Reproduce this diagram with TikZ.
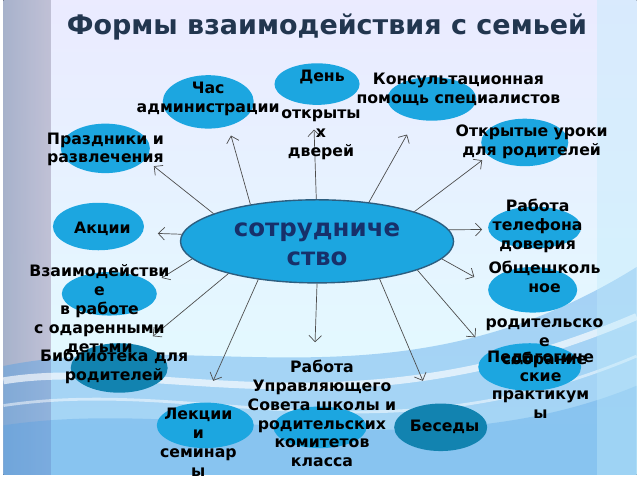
\documentclass[tikz,border=0pt]{standalone}
\usepackage{fontspec}
\setmainfont{DejaVu Sans}
\usetikzlibrary{arrows.meta, positioning, shapes.geometric}
\definecolor{bubblecol}{HTML}{1CA6E0}
\definecolor{deepcol}{HTML}{1283B0}
\definecolor{titlecol}{HTML}{22364F}
\definecolor{corecol}{HTML}{17306A}
\definecolor{rimcol}{HTML}{2C5E80}
\definecolor{stripcol}{HTML}{C6D3F2}
\definecolor{wavecol}{HTML}{4A9DE6}

\begin{document}
\begin{tikzpicture}[x=0.025cm, y=-0.025cm,
    bub/.style 2 args={ellipse, fill=bubblecol, inner sep=0pt,
      minimum width=#1*0.05cm, minimum height=#2*0.05cm},
    deep/.style={fill=deepcol},
    lbl/.style={font=\bfseries\fontsize{11.3}{13.6}\selectfont, align=center,
      inner sep=0pt, text=black},
    arr/.style={draw=black!70, line width=0.5pt,
      -{Straight Barb[length=1.6mm, width=3.2mm]}}]
  % background
  \fill[top color=white!92!blue, bottom color=blue!6!cyan!12] (0,0) rectangle (640,480);
  \fill[left color=stripcol, right color=white!90!blue, opacity=0.8] (0,0) rectangle (48,480);
  \fill[wavecol, opacity=0.4] (0,370) .. controls (200,330) and (400,420) .. (640,270)
    -- (640,480) -- (0,480) -- cycle;
  \fill[wavecol, opacity=0.3] (0,430) .. controls (200,400) and (420,480) .. (640,390)
    -- (640,480) -- (0,480) -- cycle;
  \draw[white, line width=5pt, opacity=0.65] (0,385) .. controls (150,360) and (350,445) .. (640,320);
  \draw[white, line width=2pt, opacity=0.5] (0,410) .. controls (200,380) and (380,470) .. (640,360);
  \fill[cyan!25, opacity=0.4] (600,0) rectangle (640,480);

  \node[font=\bfseries\fontsize{19.4}{23}\selectfont, text=titlecol] (title) at (327,27)
    {Формы взаимодействия с семьей};

  % bubbles
  \node[bub={138}{42}, draw=rimcol, line width=1pt] (coop) at (317,244) {};
  \node[bub={46}{27}] (eChas) at (207,103) {};
  \node[bub={43}{21}] (eDen) at (317,85) {};
  \node[bub={45}{22}] (eKons) at (433,100) {};
  \node[bub={44}{24}] (eOtk) at (527,144) {};
  \node[bub={45}{25}] (ePr) at (103,150) {};
  \node[bub={46}{24}] (eAk) at (96,229) {};
  \node[bub={48}{22}] (eVz) at (107,297) {};
  \node[bub={49}{25}, deep] (eBib) at (117,372) {};
  \node[bub={49}{23}] (eLek) at (204,430) {};
  \node[bub={47}{21}] (eUpr) at (320,432) {};
  \node[bub={47}{24}, deep] (eBes) at (442,432) {};
  \node[bub={47}{21}] (eTel) at (537,230) {};
  \node[bub={45}{23}] (eObs) at (535,293) {};
  \node[bub={52}{24}] (ePed) at (532,371) {};

  % arrow tips
  \coordinate (pPr) at (152,168);
  \coordinate (pChas) at (230,137);
  \coordinate (pDen) at (314,131);
  \coordinate (pKons) at (408,136);
  \coordinate (pOtk) at (484,162);
  \coordinate (pAk) at (156,236);
  \coordinate (pVz) at (160,281);
  \coordinate (pBib) at (151,340);
  \coordinate (pLek) at (212,385);
  \coordinate (pUpr) at (315,346);
  \coordinate (pBes) at (424,385);
  \coordinate (pPed) at (477,341);
  \coordinate (pObs) at (476,280);
  \coordinate (pTel) at (484,232);

  \draw[arr] (coop.165) -- (pPr);
  \draw[arr] (coop.151) -- (pChas);
  \draw[arr] (coop.91) -- (pDen);
  \draw[arr] (coop.37) -- (pKons);
  \draw[arr] (coop.17) -- (pOtk);
  \draw[arr] (coop.177) -- (pAk);
  \draw[arr] (coop.188) -- (pVz);
  \draw[arr] (coop.200) -- (pBib);
  \draw[arr] (coop.213) -- (pLek);
  \draw[arr] (coop.270) -- (pUpr);
  \draw[arr] (coop.329) -- (pBes);
  \draw[arr] (coop.344) -- (pPed);
  \draw[arr] (coop.352) -- (pObs);
  \draw[arr] (coop.5) -- (pTel);

  % labels
  \node[font=\bfseries\fontsize{17.6}{21.5}\selectfont, align=center, text=corecol] (tCoop)
    at (317,247) {сотрудниче\\ство};
  \node[lbl] (tPr) at (103,151) {Праздники и\\развлечения};
  \node[lbl] (tChas) at (207,100) {Час\\администрации};
  \node[lbl] (tDen) at (322,78) {День};
  \node[lbl] (tDveri) at (321,136) {открыты\\х\\дверей};
  \node[lbl] (tKons) at (460,90) {Консультационная\\помощь специалистов};
  \node[lbl] (tOtk) at (534,143) {Открытые уроки\\для родителей};
  \node[lbl] (tAk) at (100,231) {Акции};
  \node[lbl] (tVz) at (97,313) {Взаимодействи\\е\\в работе\\с одаренными\\детьми};
  \node[lbl] (tBib) at (112,370) {Библиотека для\\родителей};
  \node[lbl] (tLek) at (197,447) {Лекции\\и\\семинар\\ы};
  \node[lbl] (tUpr) at (322,418) {Работа\\Управляющего\\Совета школы и\\родительских\\комитетов\\класса};
  \node[lbl] (tBes) at (446,432) {Беседы};
  \node[lbl] (tTel) at (540,228) {Работа\\телефона\\доверия};
  \node[lbl] (tObs) at (547,280) {Общешколь\\ное};
  \node[lbl] (tSobr) at (547,347) {родительско\\е\\собрание};
  \node[lbl] (tPed) at (543,389) {Педагогиче\\ские\\практикум\\ы};
\end{tikzpicture}
\end{document}
